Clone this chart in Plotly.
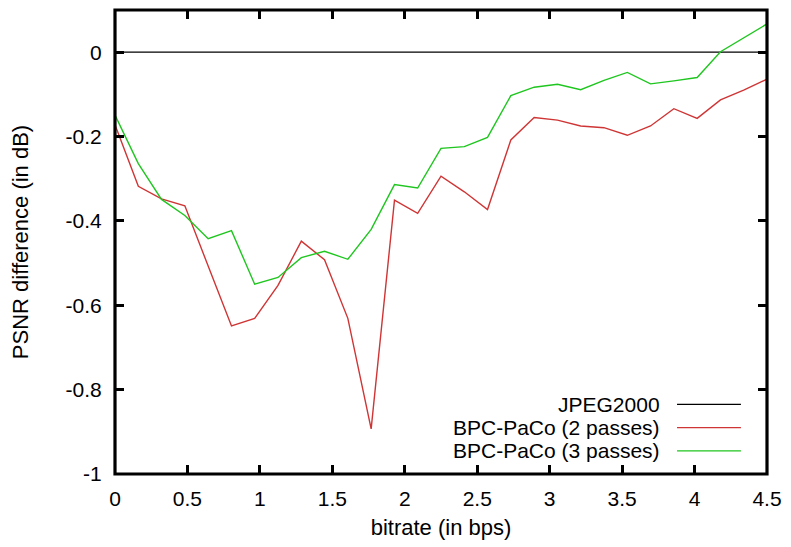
import plotly.graph_objects as go

# Bitrate sample points (bps)
bitrate = [0.0, 0.161, 0.321, 0.482, 0.643, 0.804, 0.964, 1.125, 1.286, 1.446,
           1.607, 1.768, 1.929, 2.089, 2.25, 2.411, 2.571, 2.732, 2.893, 3.054,
           3.214, 3.375, 3.536, 3.696, 3.857, 4.018, 4.179, 4.339, 4.5]

# PSNR difference relative to JPEG2000 (dB)
paco_2 = [-0.172, -0.318, -0.348, -0.364, -0.507, -0.649, -0.631, -0.553, -0.448, -0.492,
          -0.631, -0.893, -0.351, -0.382, -0.294, -0.331, -0.373, -0.208, -0.155, -0.161,
          -0.175, -0.179, -0.197, -0.175, -0.134, -0.157, -0.113, -0.090, -0.064]
paco_3 = [-0.149, -0.264, -0.349, -0.387, -0.442, -0.423, -0.550, -0.534, -0.487, -0.472,
          -0.491, -0.420, -0.314, -0.322, -0.228, -0.224, -0.202, -0.103, -0.083, -0.076,
          -0.089, -0.067, -0.048, -0.075, -0.068, -0.060, 0.001, 0.034, 0.067]
jpeg2000_x = [0.0, 4.5]
jpeg2000_y = [0.0, 0.0]

x_ticks = [0, 0.5, 1, 1.5, 2, 2.5, 3, 3.5, 4, 4.5]
x_tick_text = ["0", "0.5", "1", "1.5", "2", "2.5", "3", "3.5", "4", "4.5"]
y_ticks = [-1, -0.8, -0.6, -0.4, -0.2, 0]
y_tick_text = ["-1", "-0.8", "-0.6", "-0.4", "-0.2", "0"]

series_names = ["JPEG2000", "BPC-PaCo (2 passes)", "BPC-PaCo (3 passes)"]
series_colors = ["#000000", "#cf3535", "#1fc61f"]

FONT = "Liberation Sans, Arial, Helvetica, sans-serif"

fig = go.Figure()
fig.add_trace(go.Scatter(x=jpeg2000_x, y=jpeg2000_y, mode="lines",
                         line=dict(color=series_colors[0], width=1.3), showlegend=False))
fig.add_trace(go.Scatter(x=bitrate, y=paco_2, mode="lines",
                         line=dict(color=series_colors[1], width=1.4), showlegend=False))
fig.add_trace(go.Scatter(x=bitrate, y=paco_3, mode="lines",
                         line=dict(color=series_colors[2], width=1.4), showlegend=False))

# Key in the lower right: right-aligned labels followed by a line sample
key_rows_y = [0.150, 0.100, 0.050]
for name, color, ky in zip(series_names, series_colors, key_rows_y):
    fig.add_annotation(xref="paper", yref="paper", x=0.838, y=ky, text=name,
                       showarrow=False, xanchor="right", yanchor="middle",
                       borderpad=0, font=dict(family=FONT, size=21, color="black"))
    fig.add_shape(type="line", xref="paper", yref="paper", x0=0.862, x1=0.960,
                  y0=ky, y1=ky, line=dict(color=color, width=1.3))

# Heavy border around the plotting area
fig.add_shape(type="rect", xref="paper", yref="paper", x0=0, x1=1, y0=0, y1=1,
              line=dict(color="black", width=3.2), layer="above")

axis_common = dict(showgrid=False, zeroline=False, showline=True, linecolor="black",
                   linewidth=1, mirror="ticks", ticks="inside", ticklen=9,
                   tickwidth=3, tickcolor="black",
                   tickfont=dict(family=FONT, size=21, color="black"))

fig.update_xaxes(range=[0, 4.5], tickvals=x_ticks, ticktext=x_tick_text,
                 ticklabelstandoff=6,
                 title=dict(text="bitrate (in bps)", standoff=10,
                            font=dict(family=FONT, size=22, color="black")),
                 **axis_common)
fig.update_yaxes(range=[-1, 0.1], tickvals=y_ticks, ticktext=y_tick_text,
                 ticklabelstandoff=8,
                 title=dict(text="PSNR difference (in dB)", standoff=30,
                            font=dict(family=FONT, size=22, color="black")),
                 **axis_common)

fig.update_layout(width=791, height=547, plot_bgcolor="white", paper_bgcolor="white",
                  margin=dict(l=115, r=21, t=9, b=73), showlegend=False)

fig.write_html("out.html")
